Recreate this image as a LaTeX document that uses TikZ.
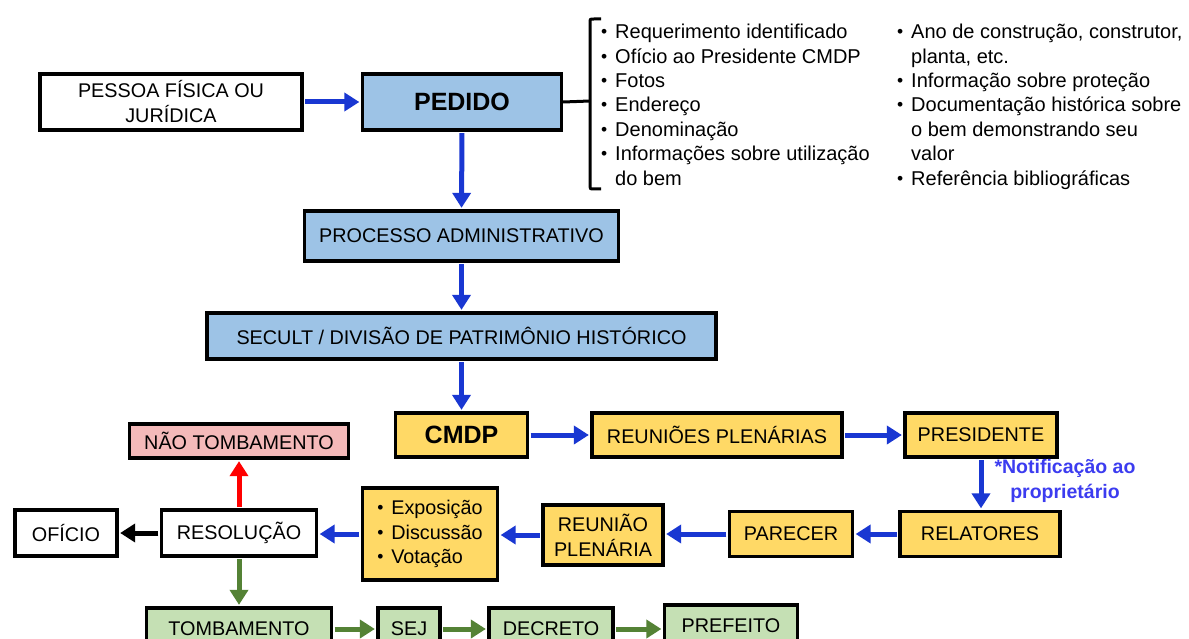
\documentclass[tikz,border=0pt]{standalone}
\usepackage{fontspec}
\setmainfont{Liberation Sans}
\usetikzlibrary{arrows.meta}
\definecolor{boxblue}{RGB}{157,195,230}
\definecolor{boxyellow}{RGB}{255,217,102}
\definecolor{boxpink}{RGB}{244,185,185}
\definecolor{boxgreen}{RGB}{197,224,180}
\definecolor{arrblue}{RGB}{25,55,210}
\definecolor{arrgreen}{RGB}{84,130,53}
\definecolor{notblue}{RGB}{60,60,240}
\newcommand{\blt}{\makebox[14pt][l]{\raisebox{1pt}{\fontsize{17.5}{17.5}\selectfont •}}}
\begin{document}
\begin{tikzpicture}[x=1pt,y=-1pt,
  box/.style={draw=black, line width=3.3pt, inner sep=0pt, align=center,
    font=\fontsize{19.8}{25}\selectfont},
  bl/.style={box, fill=boxblue},
  ye/.style={box, fill=boxyellow},
  gr/.style={box, fill=boxgreen},
  wh/.style={box, fill=white},
  pk/.style={box, fill=boxpink},
  big/.style={font=\bfseries\fontsize{25}{28}\selectfont},
  lst/.style={inner sep=0pt, align=left, font=\fontsize{20}{24.4}\selectfont},
  arr/.style={line width=5pt, shorten <=1.5pt, shorten >=1.5pt, -{Triangle[length=15pt,width=18pt]}},
  ab/.style={arr, draw=arrblue, color=arrblue},
  ag/.style={arr, draw=arrgreen, color=arrgreen},
  ar/.style={arr, draw=red, color=red},
  ak/.style={arr, draw=black, color=black}
]
\useasboundingbox (0,0) rectangle (1189,639);
\clip (0,0) rectangle (1189,639);
\fill[white] (0,0) rectangle (1189,639);

% top row
\node[wh, minimum width=262pt, minimum height=56pt] (pessoa) at (171,102) {PESSOA FÍSICA OU\\JURÍDICA};
\node[bl, big, minimum width=199pt, minimum height=56pt] (pedido) at (462,102) {PEDIDO};
\node[bl, minimum width=314pt, minimum height=50pt] (processo) at (461.5,236) {PROCESSO ADMINISTRATIVO};
\node[bl, minimum width=509pt, minimum height=46pt] (secult) at (461.5,336) {SECULT / DIVISÃO DE PATRIMÔNIO HISTÓRICO};

% bracket and lists
\coordinate (brm) at (590,101);
\draw[line width=3pt] (601,19) -- (594,19) .. controls (590,19) .. (590,23) -- (590,184) .. controls (590,189) .. (594,189) -- (601,189);
\draw[line width=3pt] (pedido.east) -- (brm);
\node[lst, anchor=north west] (col1) at (601,24) {%
\blt Requerimento identificado\\
\blt Ofício ao Presidente CMDP\\
\blt Fotos\\
\blt Endereço\\
\blt Denominação\\
\blt Informações sobre utilização\\
\hspace*{14pt}do bem};
\node[lst, anchor=north west] (col2) at (897,24) {%
\blt Ano de construção, construtor,\\
\hspace*{14pt}planta, etc.\\
\blt Informação sobre proteção\\
\blt Documentação histórica sobre\\
\hspace*{14pt}o bem demonstrando seu\\
\hspace*{14pt}valor\\
\blt Referência bibliográficas};

% CMDP row
\node[ye, big, minimum width=132pt, minimum height=44pt] (cmdp) at (461.5,435) {CMDP};
\node[ye, minimum width=250pt, minimum height=44pt] (reunioes) at (717,435) {REUNIÕES PLENÁRIAS};
\node[ye, minimum width=152pt, minimum height=44pt] (presidente) at (981,435) {PRESIDENTE};
\node[font=\bfseries\fontsize{19.5}{25}\selectfont, text=notblue, align=center, inner sep=0pt] (notif) at (1065,481) {*Notificação ao\\proprietário};

% middle row
\node[ye, minimum width=160pt, minimum height=45pt] (relatores) at (980,534) {RELATORES};
\node[ye, minimum width=123pt, minimum height=45pt] (parecer) at (791,534) {PARECER};
\node[ye, minimum width=120pt, minimum height=60pt] (reuniao) at (603,535) {REUNIÃO\\PLENÁRIA};
\node[ye, minimum width=135pt, minimum height=92pt, align=left, font=\fontsize{19.8}{24.5}\selectfont] (expos) at (430,534) {%
\blt Exposição\\
\blt Discussão\\
\blt Votação};
\node[wh, minimum width=155pt, minimum height=46pt] (resolucao) at (239,533) {RESOLUÇÃO};
\node[wh, minimum width=102pt, minimum height=46pt] (oficio) at (66,533) {OFÍCIO};
\node[pk, minimum width=219pt, minimum height=34pt] (nao) at (239,441) {NÃO TOMBAMENTO};

% bottom row
\node[gr, minimum width=185pt, minimum height=42pt] (tomb) at (239,629) {TOMBAMENTO};
\node[gr, minimum width=62pt, minimum height=42pt] (sej) at (409,629) {SEJ};
\node[gr, minimum width=124pt, minimum height=42pt] (decreto) at (551,629) {DECRETO};
\node[gr, minimum width=133pt, minimum height=42pt] (prefeito) at (731,626) {PREFEITO};

% arrows
\draw[ab] (pessoa.east) -- (pedido.west);
\draw[ab] (pedido.south) -- (processo.north);
\draw[ab] (processo.south) -- (secult.north);
\draw[ab] (secult.south) -- (cmdp.north);
\draw[ab] (cmdp.east) -- (reunioes.west);
\draw[ab] (reunioes.east) -- (presidente.west);
\draw[ab] (presidente.south) -- (presidente.south |- relatores.north);
\draw[ab] (relatores.west) -- (parecer.east);
\draw[ab] (parecer.west) -- (parecer.west -| reuniao.east);
\draw[ab] (reuniao.west) -- (reuniao.west -| expos.east);
\draw[ab] (expos.west) -- (expos.west -| resolucao.east);
\draw[ak] (resolucao.west) -- (oficio.east);
\draw[ar] (resolucao.north) -- (nao.south);
\draw[ag] (resolucao.south) -- (tomb.north);
\draw[ag] (tomb.east) -- (sej.west);
\draw[ag] (sej.east) -- (decreto.west);
\draw[ag] (decreto.east) -- (decreto.east -| prefeito.west);
\end{tikzpicture}
\end{document}
